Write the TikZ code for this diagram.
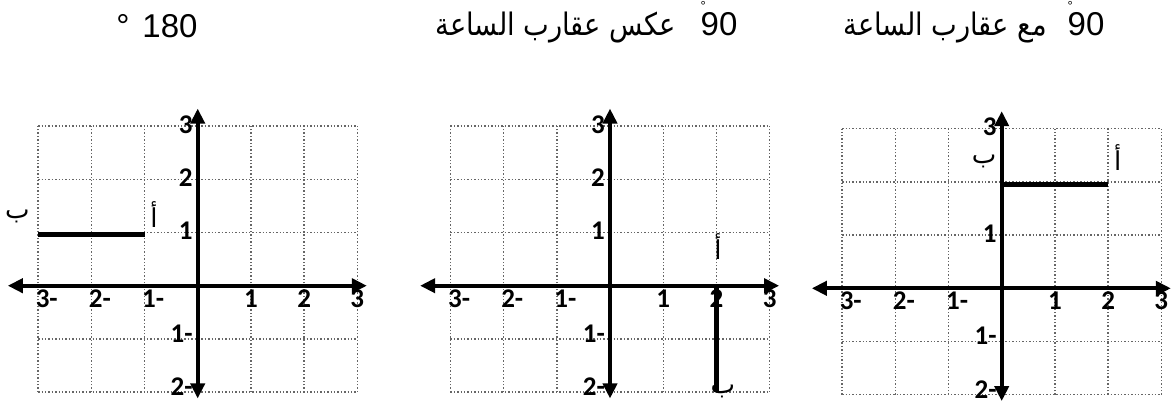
\documentclass[tikz,border=0pt]{standalone}
\usepackage{fontspec}
\setmainfont{Liberation Sans}
\newfontfamily\arabicfont[Script=Arabic,FakeStretch=0.88]{DejaVu Sans}
\newfontfamily\letterfont[Script=Arabic]{DejaVu Sans}
\newfontfamily\tickfont{Carlito}[UprightFont={* Bold}]
\TeXXeTstate=1
\usetikzlibrary{arrows.meta, positioning}
\tikzset{
  plane/.style={shift={#1},x=26.6pt,y=26.6pt},
  gridline/.style={draw=black!60,densely dotted,line width=0.7pt,step=1},
  axisarr/.style={{Triangle[length=7.5pt,width=7pt]}-{Triangle[length=7.5pt,width=7pt]},line width=2pt},
  segline/.style={line width=2.4pt},
  ticklabel/.style={font=\tickfont\fontsize{13.5}{13.5}\selectfont,inner sep=0.5pt},
  letterlabel/.style={font=\letterfont\fontsize{13}{13}\selectfont,inner sep=0pt},
  titlenum/.style={font=\fontsize{16.5}{16.5}\selectfont,inner sep=0pt},
  titletext/.style={font=\arabicfont\fontsize{15.5}{15.5}\selectfont,inner sep=0pt}
}
%% small raised ring over the 9
\newcommand{\ringmark}{\rlap{\raisebox{12.2pt}{\fontsize{6.5}{6.5}\selectfont °}}}
%% grid, axes and numbers of one plane; #1 prefix, #2 positive y ticks
\newcommand{\coordplane}[2]{%
  \draw[gridline] (-3,-2) grid (3,3);
  \coordinate (#1-W) at (-3.57,0);
  \coordinate (#1-E) at (3.18,0);
  \coordinate (#1-S) at (0,-2.12);
  \coordinate (#1-N) at (0,3.33);
  \draw[axisarr] (#1-W) -- (#1-E);
  \draw[axisarr] (#1-S) -- (#1-N);
  \foreach \i in {1,2,3} {
    \node[ticklabel] (#1-x\i) at (\i,-0.24) {\i};
    \node[ticklabel,anchor=west] (#1-xm\i) at (-\i-0.07,-0.24) {\i-};
  }
  \foreach \j in {#2} \node[ticklabel,anchor=east] (#1-y\j) at (-0.07,\j+0.03) {\j};
  \foreach \j in {1,2} \node[ticklabel,anchor=east] (#1-ym\j) at (-0.07,-\j+0.1) {\j-};
}

\begin{document}
\begin{tikzpicture}[x=0.5pt,y=-0.5pt]
  \useasboundingbox (0,0) rectangle (1172,403);

  %% Titles
  \node[titlenum,anchor=base] (t1num) at (170,37) {180};
  \node[titlenum,left=6pt of t1num.base west,anchor=base east] (t1deg) {°};

  \node[titlenum,anchor=base] (t2num) at (719,35) {\ringmark 90};
  \node[titletext,left=12pt of t2num.base west,anchor=base east] (t2text)
    {\beginR عكس عقارب الساعة\endR};

  \node[titlenum,anchor=base] (t3num) at (1086,35) {\ringmark 90};
  \node[titletext,left=10pt of t3num.base west,anchor=base east] (t3text)
    {\beginR مع عقارب الساعة\endR};

  %% 180 degrees
  \begin{scope}[plane={(197.7,285.7)}]
    \coordplane{L}{1,2,3}
    \coordinate (L-a) at (-1,0.97);
    \coordinate (L-b) at (-3,0.97);
    \draw[segline] (L-b) -- (L-a);
    \node[letterlabel] (L-alef) at (-0.82,1.33) {أ};
    \node[letterlabel] (L-ba) at (-3.39,1.31) {ب};
  \end{scope}

  %% 90 degrees counter-clockwise
  \begin{scope}[plane={(610,285.7)}]
    \coordplane{M}{1,2,3}
    \coordinate (M-a) at (2,0);
    \coordinate (M-b) at (2,-2);
    \draw[segline] (M-a) -- (M-b);
    \node[letterlabel] (M-alef) at (2.03,0.74) {أ};
    \node[letterlabel] (M-ba) at (2.12,-1.98) {ب};
  \end{scope}

  %% 90 degrees clockwise
  \begin{scope}[plane={(1001.7,288.3)}]
    \coordplane{R}{1,3}
    \coordinate (R-a) at (2,1.95);
    \coordinate (R-b) at (0,1.95);
    \draw[segline] (R-b) -- (R-a);
    \node[letterlabel] (R-alef) at (2.18,2.46) {أ};
    \node[letterlabel] (R-ba) at (-0.33,2.38) {ب};
  \end{scope}
\end{tikzpicture}
\end{document}
